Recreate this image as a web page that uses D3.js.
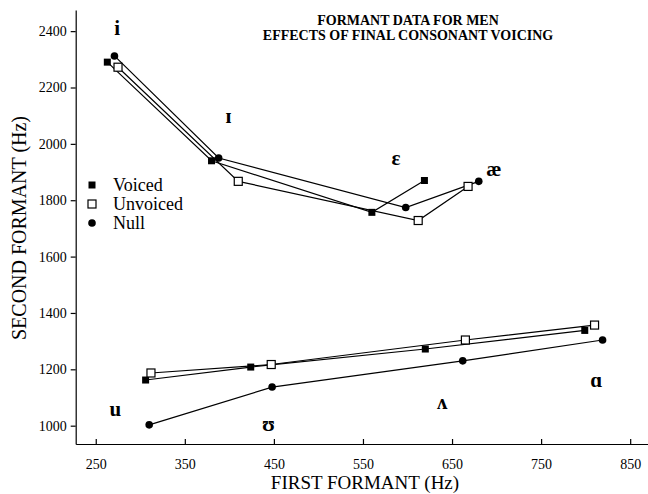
<!DOCTYPE html>
<html><head><meta charset="utf-8">
<script src="https://cdn.jsdelivr.net/npm/d3@7"></script>
<style>body{margin:0;background:#fff}svg{display:block}</style>
</head><body><svg id="c" width="648" height="494"></svg>
<script>
// ---- data ----
const xTicks = [250, 350, 450, 550, 650, 750, 850];
const yTicks = [1000, 1200, 1400, 1600, 1800, 2000, 2200, 2400];
const seriesNames = ["Voiced", "Unvoiced", "Null"];
const frontVowels = ["i", "ɪ", "ε", "æ"];
const backVowels = ["u", "ʊ", "ʌ", "ɑ"];
const voicedFrontF1 = [263, 380, 560, 619];
const voicedFrontF2 = [2290, 1940, 1757, 1870];
const unvoicedFrontF1 = [275, 410, 612, 668];
const unvoicedFrontF2 = [2272, 1867, 1728, 1849];
const nullFrontF1 = [271, 388, 598, 680];
const nullFrontF2 = [2312, 1950, 1774, 1867];
const voicedBackF1 = [306, 424, 620, 799];
const voicedBackF2 = [1162, 1208, 1272, 1338];
const unvoicedBackF1 = [312, 447, 665, 810];
const unvoicedBackF2 = [1187, 1217, 1304, 1357];
const nullBackF1 = [310, 448, 662, 819];
const nullBackF2 = [1003, 1137, 1230, 1304];
const vowelLabels = ["i", "ɪ", "ε", "æ", "u", "ʊ", "ʌ", "ɑ"];
const vowelLabelF1 = [274, 399, 587, 697, 272, 444, 639, 812];
const vowelLabelF2 = [2388, 2075, 1926, 1887, 1034, 981, 1059, 1137];
const titleLines = ["FORMANT DATA FOR MEN", "EFFECTS OF FINAL CONSONANT VOICING"];

// ---- chart ----
const svg = d3.select("#c");
const serif = "'Liberation Serif','Times New Roman','DejaVu Serif',serif";
const x = d3.scaleLinear().domain([227.5, 870]).range([75.7, 648]);
const y = d3.scaleLinear().domain([935, 2475]).range([444, 10]);

const xAxis = d3.axisBottom(x).tickValues(xTicks).tickFormat(d3.format("d"))
  .tickSize(-5).tickSizeOuter(0).tickPadding(15);
const gx = svg.append("g").attr("transform", "translate(0,444)").call(xAxis);
const yAxis = d3.axisLeft(y).tickValues(yTicks).tickFormat(d3.format("d"))
  .tickSize(5).tickSizeOuter(0).tickPadding(4);
const gy = svg.append("g").attr("transform", "translate(75.7,0)").call(yAxis);
[gx, gy].forEach(g => {
  g.selectAll("path,line").attr("stroke", "#000").attr("stroke-width", 1.2);
  g.selectAll("text").attr("font-family", serif).attr("font-size", 14).attr("fill", "#000");
});

// titles
svg.append("text").attr("x", 365).attr("y", 489).attr("text-anchor", "middle")
  .attr("font-family", serif).attr("font-size", 19).text("FIRST FORMANT (Hz)");
svg.append("text").attr("transform", "translate(26,228) rotate(-90)").attr("text-anchor", "middle")
  .attr("font-family", serif).attr("font-size", 20).text("SECOND FORMANT (Hz)");
titleLines.forEach((t, i) => {
  svg.append("text").attr("x", 408).attr("y", 25 + i * 15).attr("text-anchor", "middle")
    .attr("font-family", serif).attr("font-weight", "bold").attr("font-size", 14).text(t);
});

// series
const series = [
  {name: "Voiced", f1: voicedFrontF1, f2: voicedFrontF2, b1: voicedBackF1, b2: voicedBackF2},
  {name: "Unvoiced", f1: unvoicedFrontF1, f2: unvoicedFrontF2, b1: unvoicedBackF1, b2: unvoicedBackF2},
  {name: "Null", f1: nullFrontF1, f2: nullFrontF2, b1: nullBackF1, b2: nullBackF2}
];
const line = d3.line().x(d => x(d[0])).y(d => y(d[1]));
series.forEach(s => {
  const front = s.f1.map((v, i) => [v, s.f2[i]]);
  const back = s.b1.map((v, i) => [v, s.b2[i]]);
  [front, back].forEach(pts => {
    svg.append("path").attr("d", line(pts)).attr("fill", "none").attr("stroke", "#000").attr("stroke-width", 1.2);
  });
});
function marker(g, name, cx, cy) {
  if (name === "Voiced") {
    g.append("rect").attr("x", cx - 3.5).attr("y", cy - 3.5).attr("width", 7).attr("height", 7).attr("fill", "#000");
  } else if (name === "Unvoiced") {
    g.append("rect").attr("x", cx - 4).attr("y", cy - 4).attr("width", 8).attr("height", 8)
      .attr("fill", "#fff").attr("stroke", "#000").attr("stroke-width", 1.2);
  } else {
    g.append("circle").attr("cx", cx).attr("cy", cy).attr("r", 3.8).attr("fill", "#000");
  }
}
const gm = svg.append("g");
series.forEach(s => {
  s.f1.forEach((v, i) => marker(gm, s.name, x(v), y(s.f2[i])));
  s.b1.forEach((v, i) => marker(gm, s.name, x(v), y(s.b2[i])));
});

// vowel labels
vowelLabels.forEach((t, i) => {
  svg.append("text").attr("x", x(vowelLabelF1[i])).attr("y", y(vowelLabelF2[i]))
    .attr("text-anchor", "middle").attr("font-family", serif).attr("font-weight", "bold")
    .attr("font-size", 21).text(t);
});

// legend
const lg = svg.append("g");
seriesNames.forEach((n, i) => {
  const cy = 185 + i * 19;
  marker(lg, n, 92, cy);
  lg.append("text").attr("x", 113).attr("y", cy + 6).attr("font-family", serif)
    .attr("font-size", 18).text(n);
});
</script></body></html>
